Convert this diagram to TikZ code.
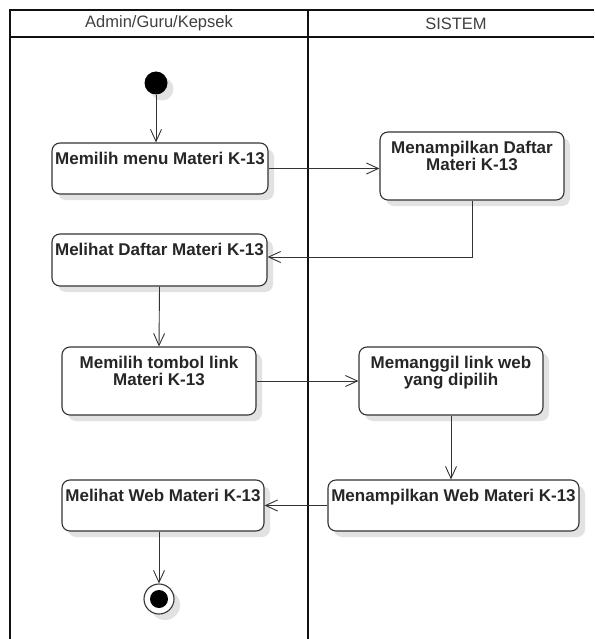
\documentclass[tikz,border=0pt]{standalone}
\usepackage{fontspec}
\setmainfont{Liberation Sans}
\usetikzlibrary{arrows.meta, positioning, shadows}
\definecolor{lineclr}{HTML}{333333}
\definecolor{laneclr}{HTML}{111111}
\definecolor{shadowclr}{HTML}{E2E2E2}

\begin{document}
\begin{tikzpicture}[x=1pt, y=1pt,
  softshadow/.style={drop shadow={shadow xshift=6pt, shadow yshift=-6pt,
                     fill=shadowclr, opacity=1}},
  activity/.style={draw=lineclr, line width=1.1pt, rounded corners=8pt,
                   fill=white, softshadow},
  acttext/.style={inner sep=0pt, align=center, text=black!85,
                  font=\fontsize{17}{17}\selectfont\bfseries},
  lanetitle/.style={font=\fontsize{16.5}{16.5}\selectfont, text=black!75},
  flow/.style={draw=lineclr, line width=0.9pt,
               -{Straight Barb[length=12pt, width=11pt]}},
  lane/.style={line width=2pt, laneclr},
]

\fill[white] (0,0) rectangle (594,-639);
\useasboundingbox (0,0) rectangle (594,-639);

% swimlanes
\draw[lane] (10,-639) -- (10,-10) -- (594,-10);
\draw[lane] (10,-37) -- (594,-37);
\draw[lane] (308,-10) -- (308,-639);

\node[lanetitle] (laneUser) at (159,-23.5) {Admin/Guru/Kepsek};
\node[lanetitle] (laneSys) at (456,-23.5) {SISTEM};

% start and end
\node[circle, fill=black, minimum size=23pt, inner sep=0pt, softshadow] (start) at (156,-83) {};
\node[circle, draw=lineclr, line width=1.1pt, fill=white, minimum size=30pt,
      inner sep=0pt, softshadow] (end) at (159,-599) {};
\node[circle, fill=black, minimum size=18pt, inner sep=0pt] (endDot) at (end) {};

% activities
\node[activity, minimum width=216pt, minimum height=51pt] (b1) at (160,-168.5) {};
\node[activity, minimum width=184pt, minimum height=68pt] (b2) at (472,-166) {};
\node[activity, minimum width=215pt, minimum height=52pt] (b3) at (159.5,-260) {};
\node[activity, minimum width=194pt, minimum height=68pt] (b4) at (159,-381) {};
\node[activity, minimum width=184pt, minimum height=68pt] (b5) at (451,-381) {};
\node[activity, minimum width=202pt, minimum height=51pt] (b6) at (163,-505.5) {};
\node[activity, minimum width=251pt, minimum height=51pt] (b7) at (453.5,-505.5) {};

\node[acttext, below=9.5pt of b1.north] (t1) {Memilih menu Materi K-13};
\node[acttext, below=9.5pt of b2.north] (t2) {Menampilkan Daftar\\Materi K-13};
\node[acttext, below=9.5pt of b3.north] (t3) {Melihat Daftar Materi K-13};
\node[acttext, below=9.5pt of b4.north] (t4) {Memilih tombol link\\Materi K-13};
\node[acttext, below=9.5pt of b5.north] (t5) {Memanggil link web\\yang dipilih};
\node[acttext, below=9.5pt of b6.north] (t6) {Melihat Web Materi K-13};
\node[acttext, below=9.5pt of b7.north] (t7) {Menampilkan Web Materi K-13};

% flows
\draw[flow] (start) -- (start |- b1.north);
\draw[flow] (b1.east) -- (b1.east -| b2.west);
\draw[flow] (b2.south) |- ([yshift=3pt]b3.east);
\draw[flow] (b3.south) -- (b4.north);
\draw[flow] (b4) -- (b5);
\draw[flow] (b5.south) -- (b5.south |- b7.north);
\draw[flow] (b7) -- (b6);
\draw[flow] (b6.south -| end) -- (end);

\end{tikzpicture}
\end{document}
